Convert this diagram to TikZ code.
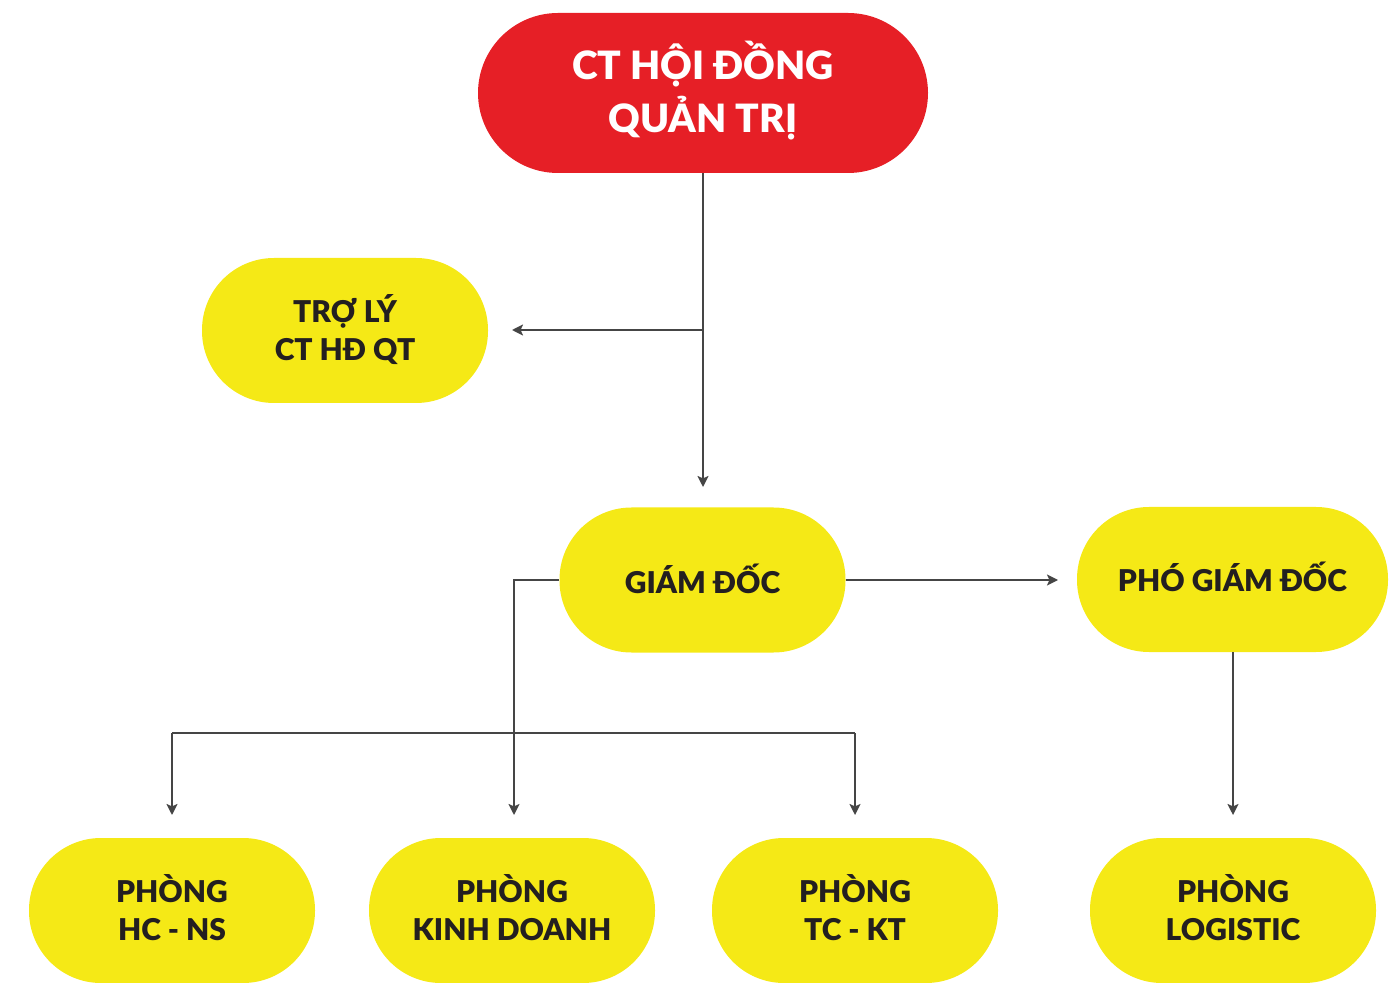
\documentclass[tikz,border=0pt]{standalone}
\usepackage{fontspec}
\setmainfont{Lato}[BoldFont={Lato Black}]
\usetikzlibrary{arrows.meta,calc}
\definecolor{cred}{HTML}{E61F26}
\definecolor{cyel}{HTML}{F5E916}
\definecolor{ctxt}{HTML}{231F20}
\definecolor{cline}{HTML}{454545}
\begin{document}
\begin{tikzpicture}[x=0.5pt,y=-0.5pt,
  pill/.style={fill=cyel, text=ctxt, minimum width=143pt, minimum height=72.5pt,
    rounded corners=36pt, align=center, font=\fontsize{15}{19}\selectfont\bfseries, inner sep=0pt, text depth=3pt},
  toppill/.style={fill=cred, text=white, minimum width=225pt, minimum height=80pt,
    rounded corners=40pt, align=center, font=\fontsize{19.5}{26.5}\selectfont\bfseries, inner sep=0pt, text depth=6pt},
  conn/.style={draw=cline, line width=0.9pt},
  arr/.style={conn, -{Stealth[length=5.5pt,width=5.5pt,inset=1.2pt]}}]
\useasboundingbox (0,0) rectangle (1397,983);
% nodes
\node[toppill] (ct) at (703,93) {CT HỘI ĐỒNG\\QUẢN TRỊ};
\node[pill] (tl) at (345,330.5) {TRỢ LÝ\\CT HĐ QT};
\node[pill, text depth=1.5pt] (gd) at (702.5,580) {GIÁM ĐỐC};
\node[pill, minimum width=155.5pt, text depth=2.5pt] (pgd) at (1232.5,579.5) {PHÓ GIÁM ĐỐC};
\node[pill] (hc) at (172,910.5) {PHÒNG\\HC - NS};
\node[pill] (kd) at (512,910.5) {PHÒNG\\KINH DOANH};
\node[pill] (tc) at (855,910.5) {PHÒNG\\TC - KT};
\node[pill] (lg) at (1233,910.5) {PHÒNG\\LOGISTIC};
% coordinates
\coordinate (j1) at (703,330);
\coordinate (e1) at (703,487);
\coordinate (e2) at (512,330);
\coordinate (e3) at (1058,580);
\coordinate (g1) at (514,580);
\coordinate (e4) at (514,815);
\coordinate (b1) at (172,733);
\coordinate (b2) at (855,733);
\coordinate (e5) at (172,815);
\coordinate (e6) at (855,815);
\coordinate (e7) at (1233,815);
% connectors
\draw[arr] (ct.south) -- (e1);
\draw[arr] (j1) -- (e2);
\draw[arr] (gd.east) -- (e3);
\draw[arr] (gd.west) -- (g1) -- (e4);
\draw[arr] (b1) -- (e5);
\draw[conn] (b1) -- (b2);
\draw[arr] (b2) -- (e6);
\draw[arr] (pgd.south -| e7) -- (e7);
\end{tikzpicture}
\end{document}
